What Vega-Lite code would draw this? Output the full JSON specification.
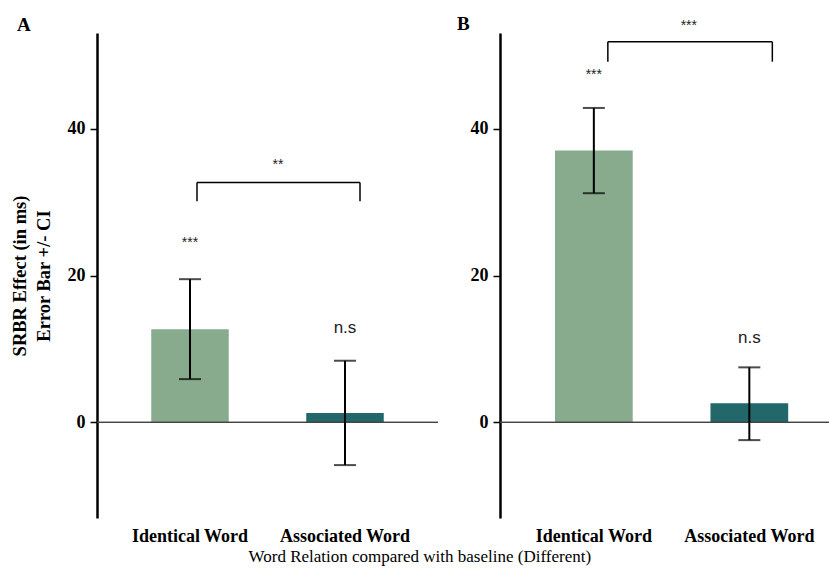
{
  "$schema": "https://vega.github.io/schema/vega-lite/v6.json",
  "background": "white",
  "padding": {"left": 10, "right": 0, "top": 14, "bottom": 8},
  "title": {"text": "Word Relation compared with baseline (Different)", "orient": "bottom", "anchor": "middle", "font": "Liberation Serif", "fontSize": 17, "fontWeight": "normal", "color": "black", "offset": 4},
  "datasets": {
    "barsA": [
      {"relation": "Identical Word", "mean": 12.7, "lo": 5.9, "hi": 19.5, "sig": "***", "sigY": 24.4},
      {"relation": "Associated Word", "mean": 1.3, "lo": -5.8, "hi": 8.4, "sig": "n.s", "sigY": 12.8}
    ],
    "barsB": [
      {"relation": "Identical Word", "mean": 37.0, "lo": 31.2, "hi": 42.8, "sig": "***", "sigY": 47.3},
      {"relation": "Associated Word", "mean": 2.6, "lo": -2.4, "hi": 7.5, "sig": "n.s", "sigY": 11.5}
    ],
    "bracketA": [
      {"from": "Identical Word", "to": "Associated Word", "top": 32.65, "bottom": 30.1, "label": "**", "labelY": 35.1}
    ],
    "bracketB": [
      {"from": "Identical Word", "to": "Associated Word", "top": 51.8, "bottom": 49.1, "label": "***", "labelY": 54.0}
    ]
  },
  "spacing": 18,
  "hconcat": [
    {
      "title": {"text": "A", "anchor": "start", "frame": "group", "font": "Liberation Serif", "fontSize": 19, "fontWeight": "bold", "color": "black", "offset": -2, "dx": -80},
      "width": 341,
      "height": 485,
      "layer": [
        {
          "data": {"name": "barsA"},
          "mark": {"type": "bar"},
          "encoding": {
            "x": {"field": "relation", "type": "nominal", "scale": {"domain": ["Identical Word", "Associated Word"], "paddingInner": 0.5, "paddingOuter": 0.35}, "axis": {"title": null, "labelAngle": 0, "domain": false, "ticks": false, "labelFont": "Liberation Serif", "labelFontSize": 18, "labelFontWeight": "bold", "labelColor": "black", "labelPadding": 9}},
            "y": {"field": "mean", "type": "quantitative", "scale": {"domain": [-13, 53], "nice": false, "zero": false}, "axis": {"title": ["SRBR Effect (in ms)", "Error Bar +/- CI"], "values": [0, 20, 40], "grid": false, "domainColor": "black", "domainWidth": 2.5, "tickColor": "black", "tickWidth": 1.5, "tickSize": 7, "labelFont": "Liberation Serif", "labelFontSize": 18, "labelFontWeight": "bold", "labelColor": "black", "labelPadding": 5, "titleFont": "Liberation Serif", "titleFontSize": 18.5, "titleFontWeight": "bold", "titleColor": "black", "titlePadding": 14, "titleLineHeight": 24}},
            "color": {"field": "relation", "type": "nominal", "scale": {"domain": ["Identical Word", "Associated Word"], "range": ["#87ab8c", "#22686a"]}, "legend": null}
          }
        },
        {
          "data": {"name": "barsA"},
          "mark": {"type": "rule", "color": "#444444", "strokeWidth": 1.3},
          "encoding": {"y": {"datum": 0, "type": "quantitative"}}
        },
        {
          "data": {"name": "barsA"},
          "mark": {"type": "rule", "color": "black", "strokeWidth": 2},
          "encoding": {
            "x": {"field": "relation", "type": "nominal", "scale": {"domain": ["Identical Word", "Associated Word"]}},
            "y": {"field": "lo", "type": "quantitative"},
            "y2": {"field": "hi"}
          }
        },
        {
          "data": {"name": "barsA"},
          "mark": {"type": "tick", "color": "black", "thickness": 2, "size": 22},
          "encoding": {
            "x": {"field": "relation", "type": "nominal", "scale": {"domain": ["Identical Word", "Associated Word"]}},
            "y": {"field": "lo", "type": "quantitative"}
          }
        },
        {
          "data": {"name": "barsA"},
          "mark": {"type": "tick", "color": "black", "thickness": 2, "size": 22},
          "encoding": {
            "x": {"field": "relation", "type": "nominal", "scale": {"domain": ["Identical Word", "Associated Word"]}},
            "y": {"field": "hi", "type": "quantitative"}
          }
        },
        {
          "data": {"name": "barsA"},
          "transform": [{"filter": "datum.sig != 'n.s'"}],
          "mark": {"type": "text", "font": "Liberation Sans", "fontSize": 14, "color": "#222222", "baseline": "middle"},
          "encoding": {
            "x": {"field": "relation", "type": "nominal", "scale": {"domain": ["Identical Word", "Associated Word"]}},
            "y": {"field": "sigY", "type": "quantitative"},
            "text": {"field": "sig"}
          }
        },
        {
          "data": {"name": "barsA"},
          "transform": [{"filter": "datum.sig == 'n.s'"}],
          "mark": {"type": "text", "font": "Liberation Sans", "fontSize": 17, "color": "#222222", "baseline": "middle"},
          "encoding": {
            "x": {"field": "relation", "type": "nominal", "scale": {"domain": ["Identical Word", "Associated Word"]}},
            "y": {"field": "sigY", "type": "quantitative"},
            "text": {"field": "sig"}
          }
        },
        {
          "data": {"name": "bracketA"},
          "mark": {"type": "rule", "color": "black", "strokeWidth": 1.5, "xOffset": 7, "x2Offset": 15},
          "encoding": {
            "x": {"field": "from", "type": "nominal", "scale": {"domain": ["Identical Word", "Associated Word"]}},
            "x2": {"field": "to"},
            "y": {"field": "top", "type": "quantitative"}
          }
        },
        {
          "data": {"name": "bracketA"},
          "mark": {"type": "rule", "color": "black", "strokeWidth": 1.5, "xOffset": 7},
          "encoding": {
            "x": {"field": "from", "type": "nominal", "scale": {"domain": ["Identical Word", "Associated Word"]}},
            "y": {"field": "top", "type": "quantitative"},
            "y2": {"field": "bottom"}
          }
        },
        {
          "data": {"name": "bracketA"},
          "mark": {"type": "rule", "color": "black", "strokeWidth": 1.5, "xOffset": 15},
          "encoding": {
            "x": {"field": "to", "type": "nominal", "scale": {"domain": ["Identical Word", "Associated Word"]}},
            "y": {"field": "top", "type": "quantitative"},
            "y2": {"field": "bottom"}
          }
        },
        {
          "data": {"name": "bracketA"},
          "mark": {"type": "text", "font": "Liberation Sans", "fontSize": 14, "color": "#222222", "baseline": "middle", "xOffset": 88},
          "encoding": {
            "x": {"field": "from", "type": "nominal", "scale": {"domain": ["Identical Word", "Associated Word"]}},
            "y": {"field": "labelY", "type": "quantitative"},
            "text": {"field": "label"}
          }
        }
      ]
    },
    {
      "title": {"text": "B", "anchor": "start", "frame": "group", "font": "Liberation Serif", "fontSize": 19, "fontWeight": "bold", "color": "black", "offset": -2, "dx": -43, "dy": 13},
      "width": 329,
      "height": 485,
      "layer": [
        {
          "data": {"name": "barsB"},
          "mark": {"type": "bar"},
          "encoding": {
            "x": {"field": "relation", "type": "nominal", "scale": {"domain": ["Identical Word", "Associated Word"], "paddingInner": 0.5, "paddingOuter": 0.308, "align": 0.574}, "axis": {"title": null, "labelAngle": 0, "domain": false, "ticks": false, "labelFont": "Liberation Serif", "labelFontSize": 18, "labelFontWeight": "bold", "labelColor": "black", "labelPadding": 9}},
            "y": {"field": "mean", "type": "quantitative", "scale": {"domain": [-13, 53], "nice": false, "zero": false}, "axis": {"title": null, "values": [0, 20, 40], "grid": false, "domainColor": "black", "domainWidth": 2.5, "tickColor": "black", "tickWidth": 1.5, "tickSize": 7, "labelFont": "Liberation Serif", "labelFontSize": 18, "labelFontWeight": "bold", "labelColor": "black", "labelPadding": 5}},
            "color": {"field": "relation", "type": "nominal", "scale": {"domain": ["Identical Word", "Associated Word"], "range": ["#87ab8c", "#22686a"]}, "legend": null}
          }
        },
        {
          "data": {"name": "barsB"},
          "mark": {"type": "rule", "color": "#444444", "strokeWidth": 1.3},
          "encoding": {"y": {"datum": 0, "type": "quantitative"}}
        },
        {
          "data": {"name": "barsB"},
          "mark": {"type": "rule", "color": "black", "strokeWidth": 2},
          "encoding": {
            "x": {"field": "relation", "type": "nominal", "scale": {"domain": ["Identical Word", "Associated Word"]}},
            "y": {"field": "lo", "type": "quantitative"},
            "y2": {"field": "hi"}
          }
        },
        {
          "data": {"name": "barsB"},
          "mark": {"type": "tick", "color": "black", "thickness": 2, "size": 22},
          "encoding": {
            "x": {"field": "relation", "type": "nominal", "scale": {"domain": ["Identical Word", "Associated Word"]}},
            "y": {"field": "lo", "type": "quantitative"}
          }
        },
        {
          "data": {"name": "barsB"},
          "mark": {"type": "tick", "color": "black", "thickness": 2, "size": 22},
          "encoding": {
            "x": {"field": "relation", "type": "nominal", "scale": {"domain": ["Identical Word", "Associated Word"]}},
            "y": {"field": "hi", "type": "quantitative"}
          }
        },
        {
          "data": {"name": "barsB"},
          "transform": [{"filter": "datum.sig != 'n.s'"}],
          "mark": {"type": "text", "font": "Liberation Sans", "fontSize": 14, "color": "#222222", "baseline": "middle"},
          "encoding": {
            "x": {"field": "relation", "type": "nominal", "scale": {"domain": ["Identical Word", "Associated Word"]}},
            "y": {"field": "sigY", "type": "quantitative"},
            "text": {"field": "sig"}
          }
        },
        {
          "data": {"name": "barsB"},
          "transform": [{"filter": "datum.sig == 'n.s'"}],
          "mark": {"type": "text", "font": "Liberation Sans", "fontSize": 17, "color": "#222222", "baseline": "middle"},
          "encoding": {
            "x": {"field": "relation", "type": "nominal", "scale": {"domain": ["Identical Word", "Associated Word"]}},
            "y": {"field": "sigY", "type": "quantitative"},
            "text": {"field": "sig"}
          }
        },
        {
          "data": {"name": "bracketB"},
          "mark": {"type": "rule", "color": "black", "strokeWidth": 1.5, "xOffset": 14, "x2Offset": 23},
          "encoding": {
            "x": {"field": "from", "type": "nominal", "scale": {"domain": ["Identical Word", "Associated Word"]}},
            "x2": {"field": "to"},
            "y": {"field": "top", "type": "quantitative"}
          }
        },
        {
          "data": {"name": "bracketB"},
          "mark": {"type": "rule", "color": "black", "strokeWidth": 1.5, "xOffset": 14},
          "encoding": {
            "x": {"field": "from", "type": "nominal", "scale": {"domain": ["Identical Word", "Associated Word"]}},
            "y": {"field": "top", "type": "quantitative"},
            "y2": {"field": "bottom"}
          }
        },
        {
          "data": {"name": "bracketB"},
          "mark": {"type": "rule", "color": "black", "strokeWidth": 1.5, "xOffset": 23},
          "encoding": {
            "x": {"field": "to", "type": "nominal", "scale": {"domain": ["Identical Word", "Associated Word"]}},
            "y": {"field": "top", "type": "quantitative"},
            "y2": {"field": "bottom"}
          }
        },
        {
          "data": {"name": "bracketB"},
          "mark": {"type": "text", "font": "Liberation Sans", "fontSize": 14, "color": "#222222", "baseline": "middle", "xOffset": 95},
          "encoding": {
            "x": {"field": "from", "type": "nominal", "scale": {"domain": ["Identical Word", "Associated Word"]}},
            "y": {"field": "labelY", "type": "quantitative"},
            "text": {"field": "label"}
          }
        }
      ]
    }
  ],
  "config": {
    "view": {"stroke": null},
    "axis": {"labelFont": "Liberation Serif", "titleFont": "Liberation Serif"}
  }
}
